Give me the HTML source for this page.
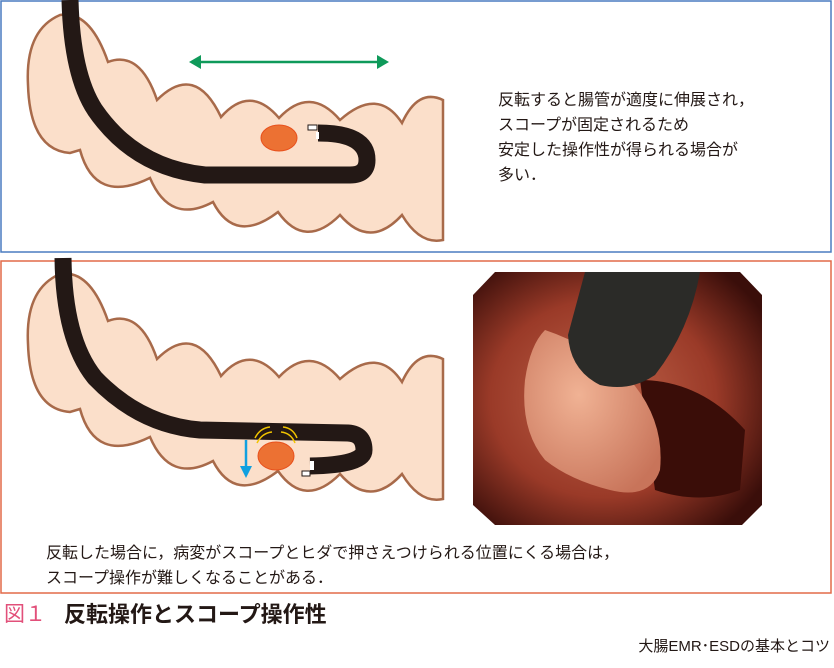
<!DOCTYPE html>
<html><head><meta charset="utf-8"><style>
body{margin:0;background:#fff;width:834px;height:668px;position:relative;overflow:hidden;font-family:"Liberation Sans","Noto Sans CJK JP",sans-serif;color:#231815}
.t{position:absolute;font-size:16px;line-height:25px;white-space:nowrap}
</style></head><body>
<svg width="834" height="668" style="position:absolute;left:0;top:0">
<defs>
<g id="colon">
<path d="M443,100 Q418,88 402,123 Q378,86 340,120 Q310,85 279,118 Q250,84 221,117 Q195,62 157,100 Q140,50 108,62 Q90,10 60,15 Q25,30 28,85 Q30,150 70,153 L80,150 Q95,205 150,178 Q170,225 213,202 Q235,245 278,212 Q305,250 340,215 Q370,250 402,215 Q420,245 443,240 Z" fill="#fbdfca" stroke="#a86a4a" stroke-width="2.5"/>
</g>
<radialGradient id="pg" cx="0.45" cy="0.5" r="0.65"><stop offset="0" stop-color="#c0644a"/><stop offset="0.6" stop-color="#9a3a28"/><stop offset="1" stop-color="#3a0e0a"/></radialGradient>
<radialGradient id="pp" cx="0.4" cy="0.4" r="0.7"><stop offset="0" stop-color="#f0b294"/><stop offset="1" stop-color="#c8745a"/></radialGradient>
</defs>
<rect x="1" y="1" width="830" height="251" fill="none" stroke="#4a7cc0" stroke-width="1.5"/>
<rect x="1" y="261" width="830" height="332" fill="none" stroke="#e26a48" stroke-width="1.5"/>
<use href="#colon"/>
<line x1="198" y1="62" x2="380" y2="62" stroke="#0f9a5a" stroke-width="2.5"/>
<polygon points="189,62 201,55 201,69" fill="#0f9a5a"/>
<polygon points="389,62 377,55 377,69" fill="#0f9a5a"/>
<ellipse cx="279" cy="138" rx="18" ry="13" fill="#ec7133" stroke="#e8501c" stroke-width="1"/>
<path d="M70,0 Q72,75 95,110 Q135,168 205,175 L350,175 Q367,175 367,160 Q367,133 318,133" fill="none" stroke="#231815" stroke-width="17"/>
<rect x="308" y="125" width="9" height="5" fill="#fff" stroke="#231815"/>
<rect x="316" y="132" width="3" height="7" fill="#fff"/>
<g transform="translate(0,259)"><use href="#colon"/></g>
<path d="M63,258 Q64,340 95,378 Q140,425 200,430 L348,433 Q364,434 364,450 Q364,465 310,466" fill="none" stroke="#231815" stroke-width="17"/>
<ellipse cx="276" cy="456" rx="18" ry="14" fill="#ec7133" stroke="#e8501c"/>
<path d="M257,443 Q262,433 272,432 M255,438 Q260,428 270,427 M281,432 Q291,433 295,443 M283,427 Q293,428 297,438" stroke="#f1c400" stroke-width="1.5" fill="none"/>
<line x1="246" y1="440" x2="246" y2="468" stroke="#10a0e0" stroke-width="2.5"/>
<polygon points="240,466 252,466 246,478" fill="#10a0e0"/>
<rect x="302" y="471" width="8" height="5" fill="#fff" stroke="#231815"/>
<rect x="310" y="461" width="4" height="9" fill="#fff"/>
<polygon points="495,272 740,272 762,295 762,505 742,525 495,525 473,505 473,295" fill="url(#pg)"/>
<path d="M640,380 Q700,380 745,430 L740,490 Q700,505 655,490 Z" fill="#3a0d08"/>
<path d="M545,330 Q590,345 630,380 Q665,420 660,470 Q650,500 610,490 Q570,480 545,460 Q520,430 525,380 Q530,345 545,330 Z" fill="url(#pp)"/>
<path d="M585,272 L700,272 Q690,330 655,375 Q630,392 600,385 Q570,370 568,335 Z" fill="#2b2b28"/>
</svg>
<div class="t" style="left:498px;top:88px">反転すると腸管が適度に伸展され，<br>スコープが固定されるため<br>安定した操作性が得られる場合が<br>多い．</div>
<div class="t" style="left:46px;top:541px">反転した場合に，病変がスコープとヒダで押さえつけられる位置にくる場合は，<br>スコープ操作が難しくなることがある．</div>
<div class="t" style="left:4px;top:602px;font-size:21px;color:#e2507a">図１</div>
<div class="t" style="left:64px;top:602px;font-size:22px;font-weight:bold">反転操作とスコープ操作性</div>
<div class="t" style="right:4px;top:634px;font-size:15px">大腸EMR･ESDの基本とコツ</div>
</body></html>
